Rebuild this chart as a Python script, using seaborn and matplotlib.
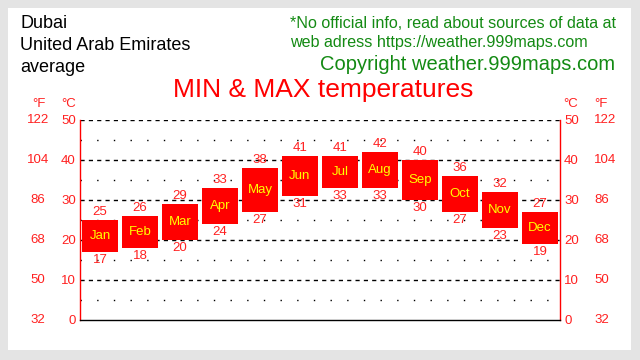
import pandas as pd
import matplotlib.pyplot as plt
import matplotlib.patches as patches
import seaborn as sns

# Dubai monthly average temperatures (deg C)
months = ['Jan', 'Feb', 'Mar', 'Apr', 'May', 'Jun', 'Jul', 'Aug', 'Sep', 'Oct', 'Nov', 'Dec']
t_max = [25, 26, 29, 33, 38, 41, 41, 42, 40, 36, 32, 27]
t_min = [17, 18, 20, 24, 27, 31, 33, 33, 30, 27, 23, 19]
c_ticks = [0, 10, 20, 30, 40, 50]
f_ticks = [32, 50, 68, 86, 104, 122]

df = pd.DataFrame({'month': months, 'low': t_min, 'high': t_max})
df['span'] = df['high'] - df['low']

sns.set_style("white")
plt.rcParams['font.family'] = ['Liberation Sans', 'DejaVu Sans']

fig = plt.figure(figsize=(6.4, 3.6), dpi=100, facecolor='#e4e4e4')
# white panel inside the gray frame
fig.patches.append(patches.Rectangle((8 / 640, 10 / 360), 623 / 640, 342 / 360,
                                     transform=fig.transFigure, facecolor='white',
                                     edgecolor='none', zorder=-10))

ax = fig.add_axes([80 / 640, 40 / 360, 480 / 640, 200 / 360])
ax.set_zorder(5)
ax.set_facecolor('none')

# grid: dashed majors, dotted minors
for c in c_ticks[1:]:
    ax.axhline(c, color='black', lw=1, ls=(0, (3, 3)), zorder=1)
for c in range(5, 50, 10):
    ax.axhline(c, color='black', lw=1, ls=(0, (1, 11)), zorder=1)

sns.barplot(data=df, x='month', y='span', bottom=df['low'], color='#ff0000',
            saturation=1, width=0.92, ax=ax, zorder=2, edgecolor='none')

for i, row in df.iterrows():
    ax.text(i, row['high'] + 0.6, str(row['high']), ha='center', va='bottom',
            color='#ff2020', fontsize=9.5, zorder=3)
    ax.text(i, row['low'] - 0.6, str(row['low']), ha='center', va='top',
            color='#ff2020', fontsize=9.5, zorder=3)
    ax.text(i, (row['high'] + row['low']) / 2, row['month'], ha='center', va='center',
            color='#ffff00', fontsize=9.5, zorder=3)

ax.set_xlim(-0.5, 11.5)
ax.set_ylim(0, 50)
ax.set_xticks([])
ax.set_xlabel('')
ax.set_ylabel('')
ax.set_yticks(c_ticks)
ax.set_yticklabels([str(c) for c in c_ticks])
ax.tick_params(axis='y', colors='#ff2020', labelsize=9.5, length=0, pad=3,
               labelleft=True, labelright=True)
ax.spines['top'].set_visible(False)
ax.spines['bottom'].set_color('black')
ax.spines['left'].set_color('#ff0000')
ax.spines['right'].set_color('#ff0000')
for s in ax.spines.values():
    s.set_linewidth(1)

# Fahrenheit scale on both sides
tr = ax.get_yaxis_transform()
for c, f in zip(c_ticks, f_ticks):
    ax.text((38 - 80) / 480, c, str(f), transform=tr, ha='center', va='center',
            color='#ff2020', fontsize=9.5)
    ax.text((594 - 80) / 480, c, str(f), transform=tr, ha='left', va='center',
            color='#ff2020', fontsize=9.5)

fig.text(39 / 640, 1 - 104 / 360, '°F', ha='center', va='center', color='#ff2020', fontsize=9.5)
fig.text(69 / 640, 1 - 104 / 360, '°C', ha='center', va='center', color='#ff2020', fontsize=9.5)
fig.text(571 / 640, 1 - 104 / 360, '°C', ha='center', va='center', color='#ff2020', fontsize=9.5)
fig.text(601 / 640, 1 - 104 / 360, '°F', ha='center', va='center', color='#ff2020', fontsize=9.5)

fig.text(323 / 640, 1 - 90 / 360, 'MIN & MAX temperatures', ha='center', va='center',
         color='#ff0000', fontsize=19)

fig.text(20 / 640, 1 - 24 / 360, 'Dubai', ha='left', va='center', color='black', fontsize=13)
fig.text(20 / 640, 1 - 46 / 360, 'United Arab Emirates', ha='left', va='center', color='black', fontsize=13)
fig.text(20 / 640, 1 - 68 / 360, 'average', ha='left', va='center', color='black', fontsize=13)

green = '#138a13'
fig.text(290 / 640, 1 - 23 / 360, '*No official info, read about sources of data at',
         ha='left', va='center', color=green, fontsize=11.6)
fig.text(290 / 640, 1 - 43 / 360, 'web adress https://weather.999maps.com',
         ha='left', va='center', color=green, fontsize=11.6)
fig.text(615 / 640, 1 - 64 / 360, 'Copyright weather.999maps.com',
         ha='right', va='center', color=green, fontsize=14.5)

fig.savefig('out.png', dpi=100, facecolor=fig.get_facecolor())
